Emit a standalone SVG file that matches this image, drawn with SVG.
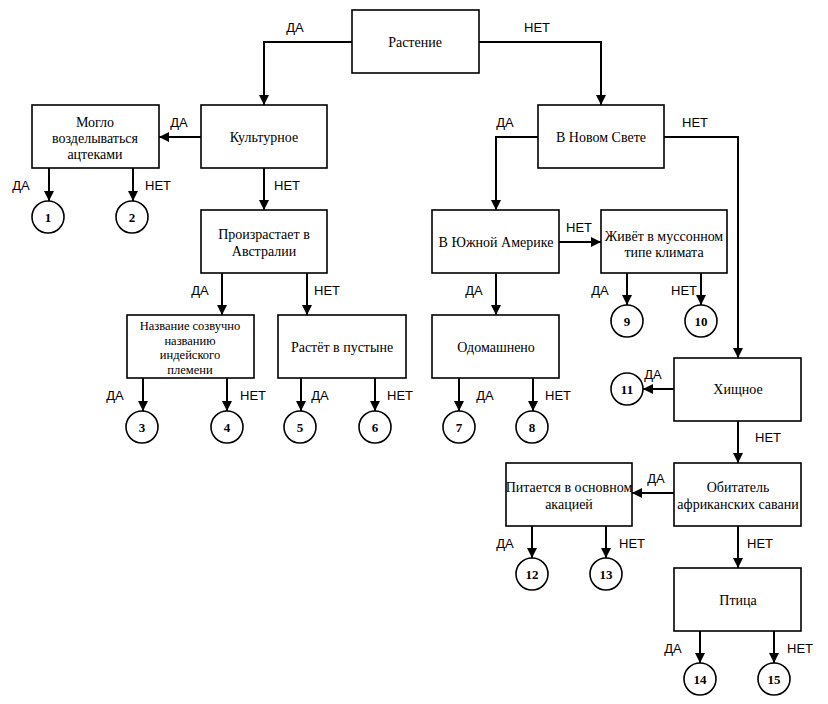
<svg xmlns="http://www.w3.org/2000/svg" width="828" height="704" viewBox="0 0 828 704">
<defs>
<marker id="ah" markerUnits="userSpaceOnUse" markerWidth="10" markerHeight="10" viewBox="0 0 10 10" refX="10" refY="5" orient="auto">
<path d="M0,0 L10,5 L0,10 z" fill="#000"/>
</marker>
<style>
.box{fill:#fff;stroke:#000;stroke-width:1.6}
.c{fill:#fff;stroke:#000;stroke-width:1.6}
.t{font-family:"Liberation Serif",serif;font-size:14px;text-anchor:middle;fill:#000}
.s{font-size:12.5px}
.n{font-family:"Liberation Serif",serif;font-size:13px;font-weight:bold;text-anchor:middle;fill:#000}
.l{font-family:"Liberation Sans",Arial,sans-serif;font-size:13px;text-anchor:middle;fill:#000}
.e{fill:none;stroke:#000;stroke-width:2;marker-end:url(#ah)}
</style>
</defs>
<rect width="828" height="704" fill="#fff"/>
<g id="connectors">
<path class="e" d="M352,42 H264 V105"/>
<path class="e" d="M479,42 H601 V105"/>
<path class="e" d="M201,137 H159"/>
<path class="e" d="M49,168 V201"/>
<path class="e" d="M133,168 V201"/>
<path class="e" d="M264,168 V210"/>
<path class="e" d="M222,273 V315"/>
<path class="e" d="M307,273 V315"/>
<path class="e" d="M143,378 V411"/>
<path class="e" d="M227,378 V411"/>
<path class="e" d="M301,378 V411"/>
<path class="e" d="M375,378 V411"/>
<path class="e" d="M538,137 H496 V210"/>
<path class="e" d="M664,137 H738 V358"/>
<path class="e" d="M559,242 H601"/>
<path class="e" d="M627,273 V305"/>
<path class="e" d="M701,273 V305"/>
<path class="e" d="M496,273 V315"/>
<path class="e" d="M459,378 V411"/>
<path class="e" d="M533,378 V411"/>
<path class="e" d="M674,389 H643"/>
<path class="e" d="M738,421 V463"/>
<path class="e" d="M674,493 H632"/>
<path class="e" d="M532,526 V558"/>
<path class="e" d="M606,526 V558"/>
<path class="e" d="M738,526 V568"/>
<path class="e" d="M700,631 V663"/>
<path class="e" d="M774,631 V663"/>
<g id="labels">
<text class="l" x="295" y="32">ДА</text>
<text class="l" x="537" y="32">НЕТ</text>
<text class="l" x="179" y="127">ДА</text>
<text class="l" x="21" y="190">ДА</text>
<text class="l" x="158" y="190">НЕТ</text>
<text class="l" x="287" y="190">НЕТ</text>
<text class="l" x="200" y="295">ДА</text>
<text class="l" x="327" y="295">НЕТ</text>
<text class="l" x="115" y="400">ДА</text>
<text class="l" x="253" y="400">НЕТ</text>
<text class="l" x="320" y="400">ДА</text>
<text class="l" x="400" y="400">НЕТ</text>
<text class="l" x="505" y="127">ДА</text>
<text class="l" x="695" y="127">НЕТ</text>
<text class="l" x="579" y="232">НЕТ</text>
<text class="l" x="600" y="295">ДА</text>
<text class="l" x="684" y="295">НЕТ</text>
<text class="l" x="474" y="295">ДА</text>
<text class="l" x="485" y="400">ДА</text>
<text class="l" x="558" y="400">НЕТ</text>
<text class="l" x="653" y="379">ДА</text>
<text class="l" x="768" y="442">НЕТ</text>
<text class="l" x="656" y="483">ДА</text>
<text class="l" x="505" y="548">ДА</text>
<text class="l" x="632" y="548">НЕТ</text>
<text class="l" x="760" y="548">НЕТ</text>
<text class="l" x="673" y="653">ДА</text>
<text class="l" x="800" y="653">НЕТ</text>
</g>
</g>
<g id="n-rastenie"><rect class="box" x="352" y="10" width="127" height="63"/><text class="t" x="415" y="47">Растение</text></g>
<g id="n-kulturnoe"><rect class="box" x="201" y="105" width="126" height="63"/><text class="t" x="264" y="142">Культурное</text></g>
<g id="n-moglo"><rect class="box" x="32" y="105" width="127" height="63"/><text class="t" x="95" y="127">Могло</text><text class="t" x="95" y="143">возделываться</text><text class="t" x="95" y="159">ацтеками</text></g>
<g id="n-avstralia"><rect class="box" x="201" y="210" width="126" height="63"/><text class="t" x="264" y="239">Произрастает в</text><text class="t" x="264" y="256">Австралии</text></g>
<g id="n-nazvanie"><rect class="box" x="127" y="315" width="127" height="63"/><text class="t s" x="190" y="330">Название созвучно</text><text class="t s" x="190" y="344.5">названию</text><text class="t s" x="190" y="359">индейского</text><text class="t s" x="190" y="373.5">племени</text></g>
<g id="n-pustyne"><rect class="box" x="278" y="315" width="128" height="63"/><text class="t" x="342" y="352">Растёт в пустыне</text></g>
<g id="n-novsvet"><rect class="box" x="538" y="105" width="126" height="63"/><text class="t" x="601" y="142">В Новом Свете</text></g>
<g id="n-yuzhamer"><rect class="box" x="432" y="210" width="127" height="63"/><text class="t" x="496" y="247">В Южной Америке</text></g>
<g id="n-musson"><rect class="box" x="601" y="210" width="126" height="63"/><text class="t" x="664" y="241">Живёт в муссонном</text><text class="t" x="664" y="257">типе климата</text></g>
<g id="n-odomash"><rect class="box" x="432" y="315" width="127" height="63"/><text class="t" x="496" y="352">Одомашнено</text></g>
<g id="n-hishnoe"><rect class="box" x="674" y="358" width="127" height="63"/><text class="t" x="738" y="394">Хищное</text></g>
<g id="n-obitatel"><rect class="box" x="674" y="463" width="127" height="63"/><text class="t" x="738" y="492">Обитатель</text><text class="t" x="738" y="509">африканских савани</text></g>
<g id="n-pitaetsa"><rect class="box" x="506" y="463" width="126" height="63"/><text class="t" x="569" y="492">Питается в основном</text><text class="t" x="569" y="509">акацией</text></g>
<g id="n-ptica"><rect class="box" x="674" y="568" width="127" height="63"/><text class="t" x="738" y="605">Птица</text></g>
<g id="c1"><circle class="c" cx="48" cy="217" r="16"/><text class="n" x="48" y="222">1</text></g>
<g id="c2"><circle class="c" cx="132" cy="217" r="16"/><text class="n" x="132" y="222">2</text></g>
<g id="c3"><circle class="c" cx="142" cy="427" r="16"/><text class="n" x="142" y="432">3</text></g>
<g id="c4"><circle class="c" cx="227" cy="427" r="16"/><text class="n" x="227" y="432">4</text></g>
<g id="c5"><circle class="c" cx="300" cy="427" r="16"/><text class="n" x="300" y="432">5</text></g>
<g id="c6"><circle class="c" cx="375" cy="427" r="16"/><text class="n" x="375" y="432">6</text></g>
<g id="c7"><circle class="c" cx="459" cy="427" r="16"/><text class="n" x="459" y="432">7</text></g>
<g id="c8"><circle class="c" cx="532" cy="427" r="16"/><text class="n" x="532" y="432">8</text></g>
<g id="c9"><circle class="c" cx="627" cy="321" r="16"/><text class="n" x="627" y="326">9</text></g>
<g id="c10"><circle class="c" cx="701" cy="321" r="16"/><text class="n" x="701" y="326">10</text></g>
<g id="c11"><circle class="c" cx="627" cy="389" r="16"/><text class="n" x="627" y="394">11</text></g>
<g id="c12"><circle class="c" cx="532" cy="574" r="16"/><text class="n" x="532" y="579">12</text></g>
<g id="c13"><circle class="c" cx="606" cy="574" r="16"/><text class="n" x="606" y="579">13</text></g>
<g id="c14"><circle class="c" cx="700" cy="679" r="16"/><text class="n" x="700" y="684">14</text></g>
<g id="c15"><circle class="c" cx="774" cy="679" r="16"/><text class="n" x="774" y="684">15</text></g>
</svg>
